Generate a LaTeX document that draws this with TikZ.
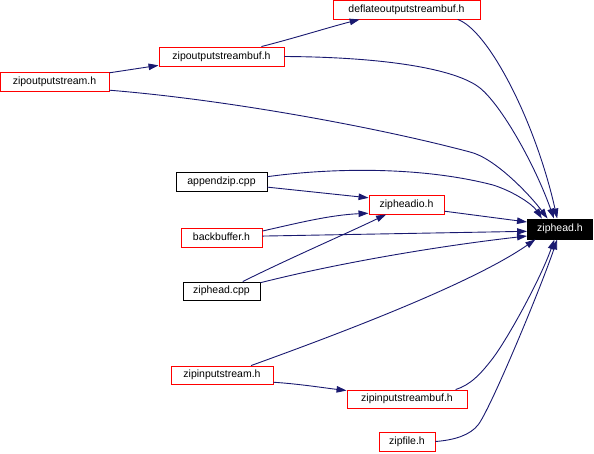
\documentclass[tikz,border=0pt]{standalone}
\usepackage{fontspec}
\setmainfont{Liberation Sans}
\usetikzlibrary{arrows.meta}
\definecolor{edgeblue}{HTML}{191970}

\begin{document}
\begin{tikzpicture}[
  x=1pt, y=-1pt,
  >={Triangle[length=10pt,width=6.5pt]},
  every node/.style={draw,rectangle,inner sep=0pt,minimum height=19pt,text height=7.5pt,text depth=2.5pt,font=\fontsize{10.5}{12}\selectfont,line width=0.9pt},
  hdr/.style={draw=red},
  src/.style={draw=black},
  cur/.style={draw=black,fill=black,text=white},
  dep/.style={->,color=edgeblue,line width=0.9pt},
  ]
  \useasboundingbox (0,0) rectangle (594,453);
  \node[hdr, minimum width=147pt] (dos) at (406.5,9.5) {deflateoutputstreambuf.h};
  \node[hdr, minimum width=125pt] (zosb) at (221.5,56.5) {zipoutputstreambuf.h};
  \node[hdr, minimum width=109pt] (zos) at (54.5,81.5) {zipoutputstream.h};
  \node[cur, minimum width=65pt, minimum height=20pt] (zh) at (560,229) {ziphead.h};
  \node[src, minimum width=91pt] (app) at (221.5,181.5) {appendzip.cpp};
  \node[hdr, minimum width=75pt] (zha) at (406.5,204.5) {zipheadio.h};
  \node[hdr, minimum width=81pt] (bb) at (221.5,237.5) {backbuffer.h};
  \node[src, minimum width=77pt, minimum height=18pt] (zc) at (221.5,291) {ziphead.cpp};
  \node[hdr, minimum width=102pt, minimum height=18pt] (zis) at (222,375) {zipinputstream.h};
  \node[hdr, minimum width=120pt, minimum height=18pt] (zisb) at (407,399) {zipinputstreambuf.h};
  \node[hdr, minimum width=56pt] (zf) at (407,441.5) {zipfile.h};

  \draw [dep] (zos.9) -- (zosb.188);
  \draw [dep] (zosb.14) .. controls (295,38) and (330,27) .. (dos.-168);
  \draw [dep] (dos.-11) .. controls (488,30) and (535,120) .. (zh.105);
  \draw [dep] (zosb.east) .. controls (380,57) and (455,68) .. (480,88) .. controls (502,106) and (535,165) .. (zh.120);
  \draw [dep] (zos.-9) .. controls (230,100) and (380,128) .. (470,152) .. controls (495,158) and (530,195) .. (zh.140);
  \draw [dep] (app.6) .. controls (330,168) and (420,166) .. (493,185) .. controls (515,192) and (533,205) .. (zh.150);
  \draw [dep] (app.-7) -- (zha.170);
  \draw [dep] (bb.9) .. controls (298,223) and (330,215) .. (zha.193);
  \draw [dep] (bb.2) -- (zh.184);
  \draw [dep] (zc.24) .. controls (290,258) and (350,232) .. (zha.-154);
  \draw [dep] (zc.12) .. controls (330,265) and (430,247) .. (zh.192);
  \draw [dep] (zha.-10) -- (zh.168);
  \draw [dep] (zis.18) .. controls (330,337) and (470,285) .. (zh.203);
  \draw [dep] (zis.-8) .. controls (300,384) and (325,388) .. (zisb.172);
  \draw [dep] (zisb.11) .. controls (470,385) and (480,375) .. (493,358) .. controls (508,338) and (540,280) .. (zh.-118);
  \draw [dep] (zf.east) .. controls (455,440) and (470,435) .. (478,425) .. controls (490,410) and (540,290) .. (zh.-105);

\end{tikzpicture}
\end{document}
